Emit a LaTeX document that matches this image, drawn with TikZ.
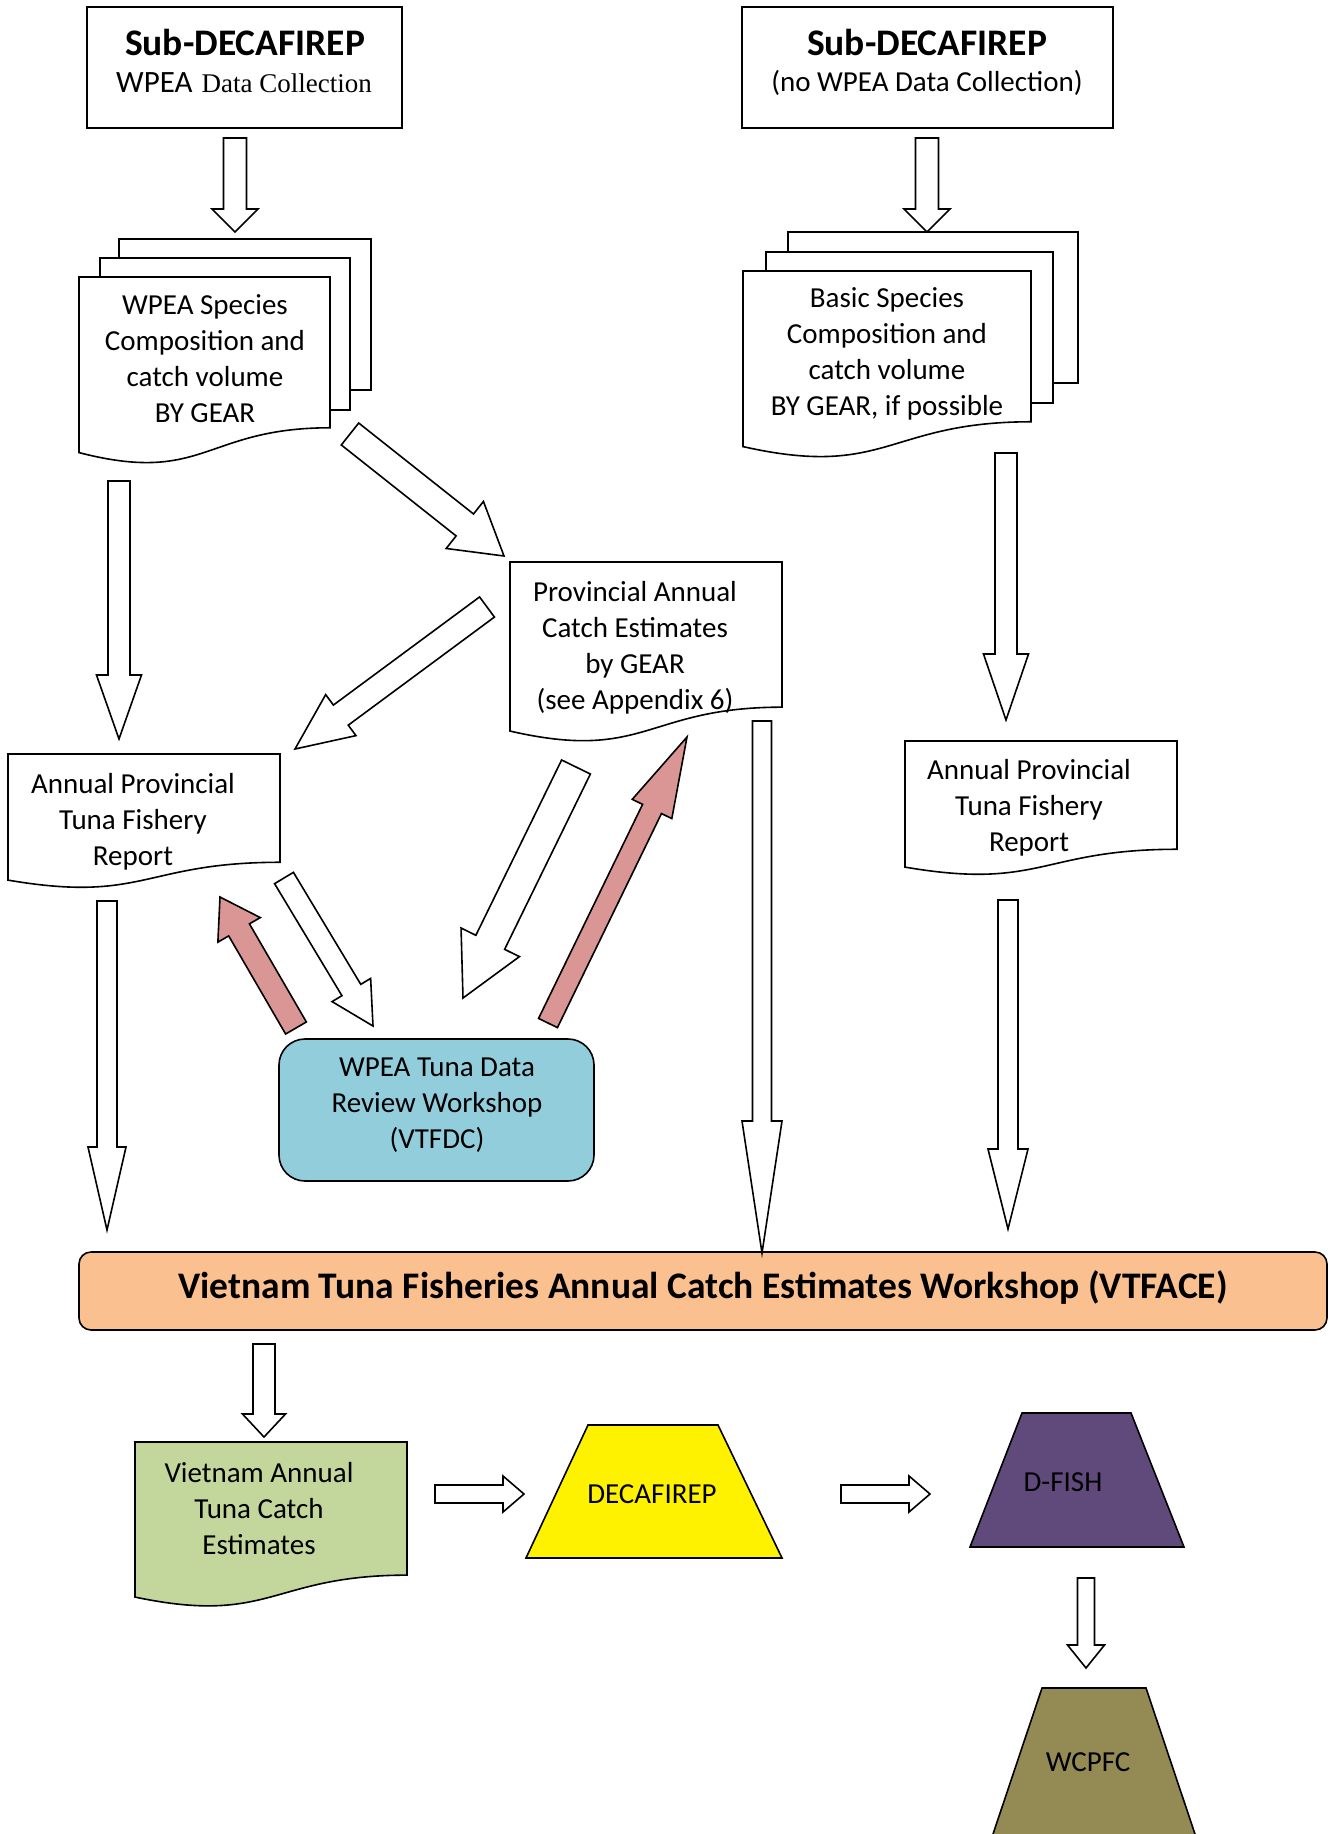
\documentclass[tikz,border=0pt]{standalone}
\usepackage{fontspec}
\setmainfont{Carlito}
\newfontfamily\serifF{Liberation Serif}
\usetikzlibrary{calc}
\definecolor{pinkA}{HTML}{D99694}
\definecolor{aquaA}{HTML}{92CDDC}
\definecolor{orangeA}{HTML}{FAC090}
\definecolor{greenA}{HTML}{C3D69B}
\definecolor{purpleA}{HTML}{604A7B}
\definecolor{oliveA}{HTML}{948A54}
\newcommand\fTitle{\fontsize{37.5}{42}\selectfont\bfseries}
\newcommand\fBody{\fontsize{29}{36}\selectfont}
\newcommand\fBand{\fontsize{37.5}{42}\selectfont\bfseries}
% block arrow: [style]{tail}{tip}{shaft half width}{head half width}{head length}
\newcommand\barrow[6][]{%
  \path ($(#3)!#6pt!(#2)$) coordinate (bah);
  \draw[blk,#1] ($(#2)!#4pt!90:(#3)$) -- ($(bah)!#4pt!90:(#3)$) -- ($(bah)!#5pt!90:(#3)$) -- (#3)
     -- ($(bah)!#5pt!-90:(#3)$) -- ($(bah)!#4pt!-90:(#3)$) -- ($(#2)!#4pt!-90:(#3)$) -- cycle;}
% document shape: style, x0, y0, x1, h
\newcommand\docshape[5]{%
  \draw[#1] (#2,#3) -- (#4,#3) -- (#4,{#3+0.802*#5})
    .. controls ({(#2+#4)/2},{#3+0.802*#5}) and ({(#2+#4)/2},{#3+1.107*#5}) .. (#2,{#3+0.934*#5}) -- cycle;}
\begin{document}
\begin{tikzpicture}[x=1pt,y=-1pt, line join=miter, line width=1.6pt,
  blk/.style={draw=black, fill=white, line width=1.6pt},
  pnk/.style={fill=pinkA},
  shp/.style={draw=black, fill=white, line width=1.6pt},
  lbl/.style={inner sep=0pt, align=center, font=\fBody}]
\fill[white] (0,0) rectangle (1336,1834);
\useasboundingbox (0,0) rectangle (1336,1834);

% ---- top boxes
\node[shp, minimum width=315pt, minimum height=121pt, inner sep=0pt] (sub1) at (244.5,67.5) {};
\node[lbl, font=\fTitle] (sub1t) at (245,42) {Sub-DECAFIREP};
\node[lbl] (sub1s) at (244,83) {{\fontsize{31}{36}\selectfont WPEA}\hspace{9pt}{\serifF\fontsize{27}{30}\selectfont Data Collection}};
\node[shp, minimum width=371pt, minimum height=121pt, inner sep=0pt] (sub2) at (927.5,67.5) {};
\node[lbl, font=\fTitle] (sub2t) at (927,42) {Sub-DECAFIREP};
\node[lbl] (sub2s) at (927,83) {(no WPEA Data Collection)};

% ---- stacked documents left
\draw[shp] (119,239) rectangle (371,390);
\draw[shp] (100,258) rectangle (350,410);
\docshape{shp}{79}{277}{330}{188}
\node[lbl] (stk1) at (205,359) {WPEA Species\\Composition and\\catch volume\\BY GEAR};

% ---- stacked documents right
\draw[shp] (788,232) rectangle (1078,383);
\draw[shp] (766,252) rectangle (1053,403);
\docshape{shp}{743}{271}{1031}{188}
\node[lbl] (stk2) at (887,354) {Basic Species\\Composition and\\catch volume\\BY GEAR, if possible};

% ---- provincial annual catch estimates
\docshape{shp}{510}{562}{782}{181}
\node[lbl] (prov) at (635,648) {Provincial Annual\\Catch Estimates\\by GEAR\\(see Appendix 6)};

% ---- reports
\docshape{shp}{8}{754}{280}{135}
\node[lbl] (repL) at (133,822) {Annual Provincial\\Tuna Fishery\\Report};
\docshape{shp}{905}{741}{1177}{135}
\node[lbl] (repR) at (1029,808) {Annual Provincial\\Tuna Fishery\\Report};

% ---- workshop
\node[shp, fill=aquaA, rounded corners=26pt, minimum width=315pt, minimum height=142pt, inner sep=0pt] (wk) at (436.5,1110) {};
\node[lbl] (wkt) at (437,1105) {WPEA Tuna Data\\Review Workshop\\(VTFDC)};

% ---- VTFACE band
\node[shp, fill=orangeA, rounded corners=12pt, minimum width=1248pt, minimum height=78pt, inner sep=0pt] (vtf) at (703,1291) {};
\node[lbl, font=\fBand] (vtft) at (703,1288) {Vietnam Tuna Fisheries Annual Catch Estimates Workshop (VTFACE)};

% ---- bottom row
\docshape{shp, fill=greenA}{135}{1442}{407}{166}
\node[lbl] (vn) at (259,1509) {Vietnam Annual\\Tuna Catch\\Estimates};
\draw[shp, fill=yellow] (588,1425) -- (718,1425) -- (782,1558) -- (526,1558) -- cycle;
\node[lbl] (dec) at (652,1494) {DECAFIREP};
\draw[shp, fill=purpleA] (1022,1413) -- (1131,1413) -- (1184,1547) -- (970,1547) -- cycle;
\node[lbl] (dfish) at (1063,1482) {D-FISH};
\fill[oliveA] (1042,1688) -- (1146,1688) -- (1197,1840) -- (991,1840) -- cycle;
\draw[line width=1.6pt] (991,1840) -- (1042,1688) -- (1146,1688) -- (1197,1840);
\node[lbl] (wcp) at (1088,1762) {WCPFC};

% ---- arrow end points
\coordinate (a1s) at (235,138);  \coordinate (a1e) at (235,232);
\coordinate (a2s) at (927,138);  \coordinate (a2e) at (927,232);
\coordinate (a3s) at (119,481);  \coordinate (a3e) at (119,739);
\coordinate (a4s) at (350,434);  \coordinate (a4e) at (504,556);
\coordinate (a5s) at (487,607);  \coordinate (a5e) at (295,749);
\coordinate (a6s) at (284,878);  \coordinate (a6e) at (373,1026);
\coordinate (a7s) at (296,1028); \coordinate (a7e) at (220,897);
\coordinate (a8s) at (576,767);  \coordinate (a8e) at (463,998);
\coordinate (a9s) at (548,1023); \coordinate (a9e) at (687,737);
\coordinate (a10s) at (762,721); \coordinate (a10e) at (762,1253);
\coordinate (a11s) at (1006,453); \coordinate (a11e) at (1006,720);
\coordinate (a12s) at (1008,900); \coordinate (a12e) at (1008,1229);
\coordinate (a13s) at (107,901); \coordinate (a13e) at (107,1230);
\coordinate (a14s) at (264,1344); \coordinate (a14e) at (264,1437);
\coordinate (a15s) at (435,1494); \coordinate (a15e) at (524,1494);
\coordinate (a16s) at (841,1494); \coordinate (a16e) at (930,1494);
\coordinate (a17s) at (1086,1578); \coordinate (a17e) at (1086,1668);

% ---- arrows
\barrow{a1s}{a1e}{11.5}{23}{23}
\barrow{a2s}{a2e}{11.5}{23}{23}
\barrow{a3s}{a3e}{11}{22.5}{64}
\barrow{a4s}{a4e}{14}{30}{50}
\barrow{a5s}{a5e}{12.5}{25.5}{57}
\barrow{a6s}{a6e}{11}{22.5}{42}
\barrow[pnk]{a7s}{a7e}{12}{24.5}{38}
\barrow{a8s}{a8e}{16}{32.5}{62}
\barrow[pnk]{a9s}{a9e}{10.5}{22}{80}
\barrow{a10s}{a10e}{9.5}{20}{132}
\barrow{a11s}{a11e}{11}{22.5}{66}
\barrow{a12s}{a12e}{10}{20}{80}
\barrow{a13s}{a13e}{10}{19}{83}
\barrow{a14s}{a14e}{11}{21.5}{23}
\barrow{a15s}{a15e}{9}{18}{21}
\barrow{a16s}{a16e}{9}{18}{21}
\barrow{a17s}{a17e}{8.5}{18.5}{23}
\end{tikzpicture}
\end{document}
